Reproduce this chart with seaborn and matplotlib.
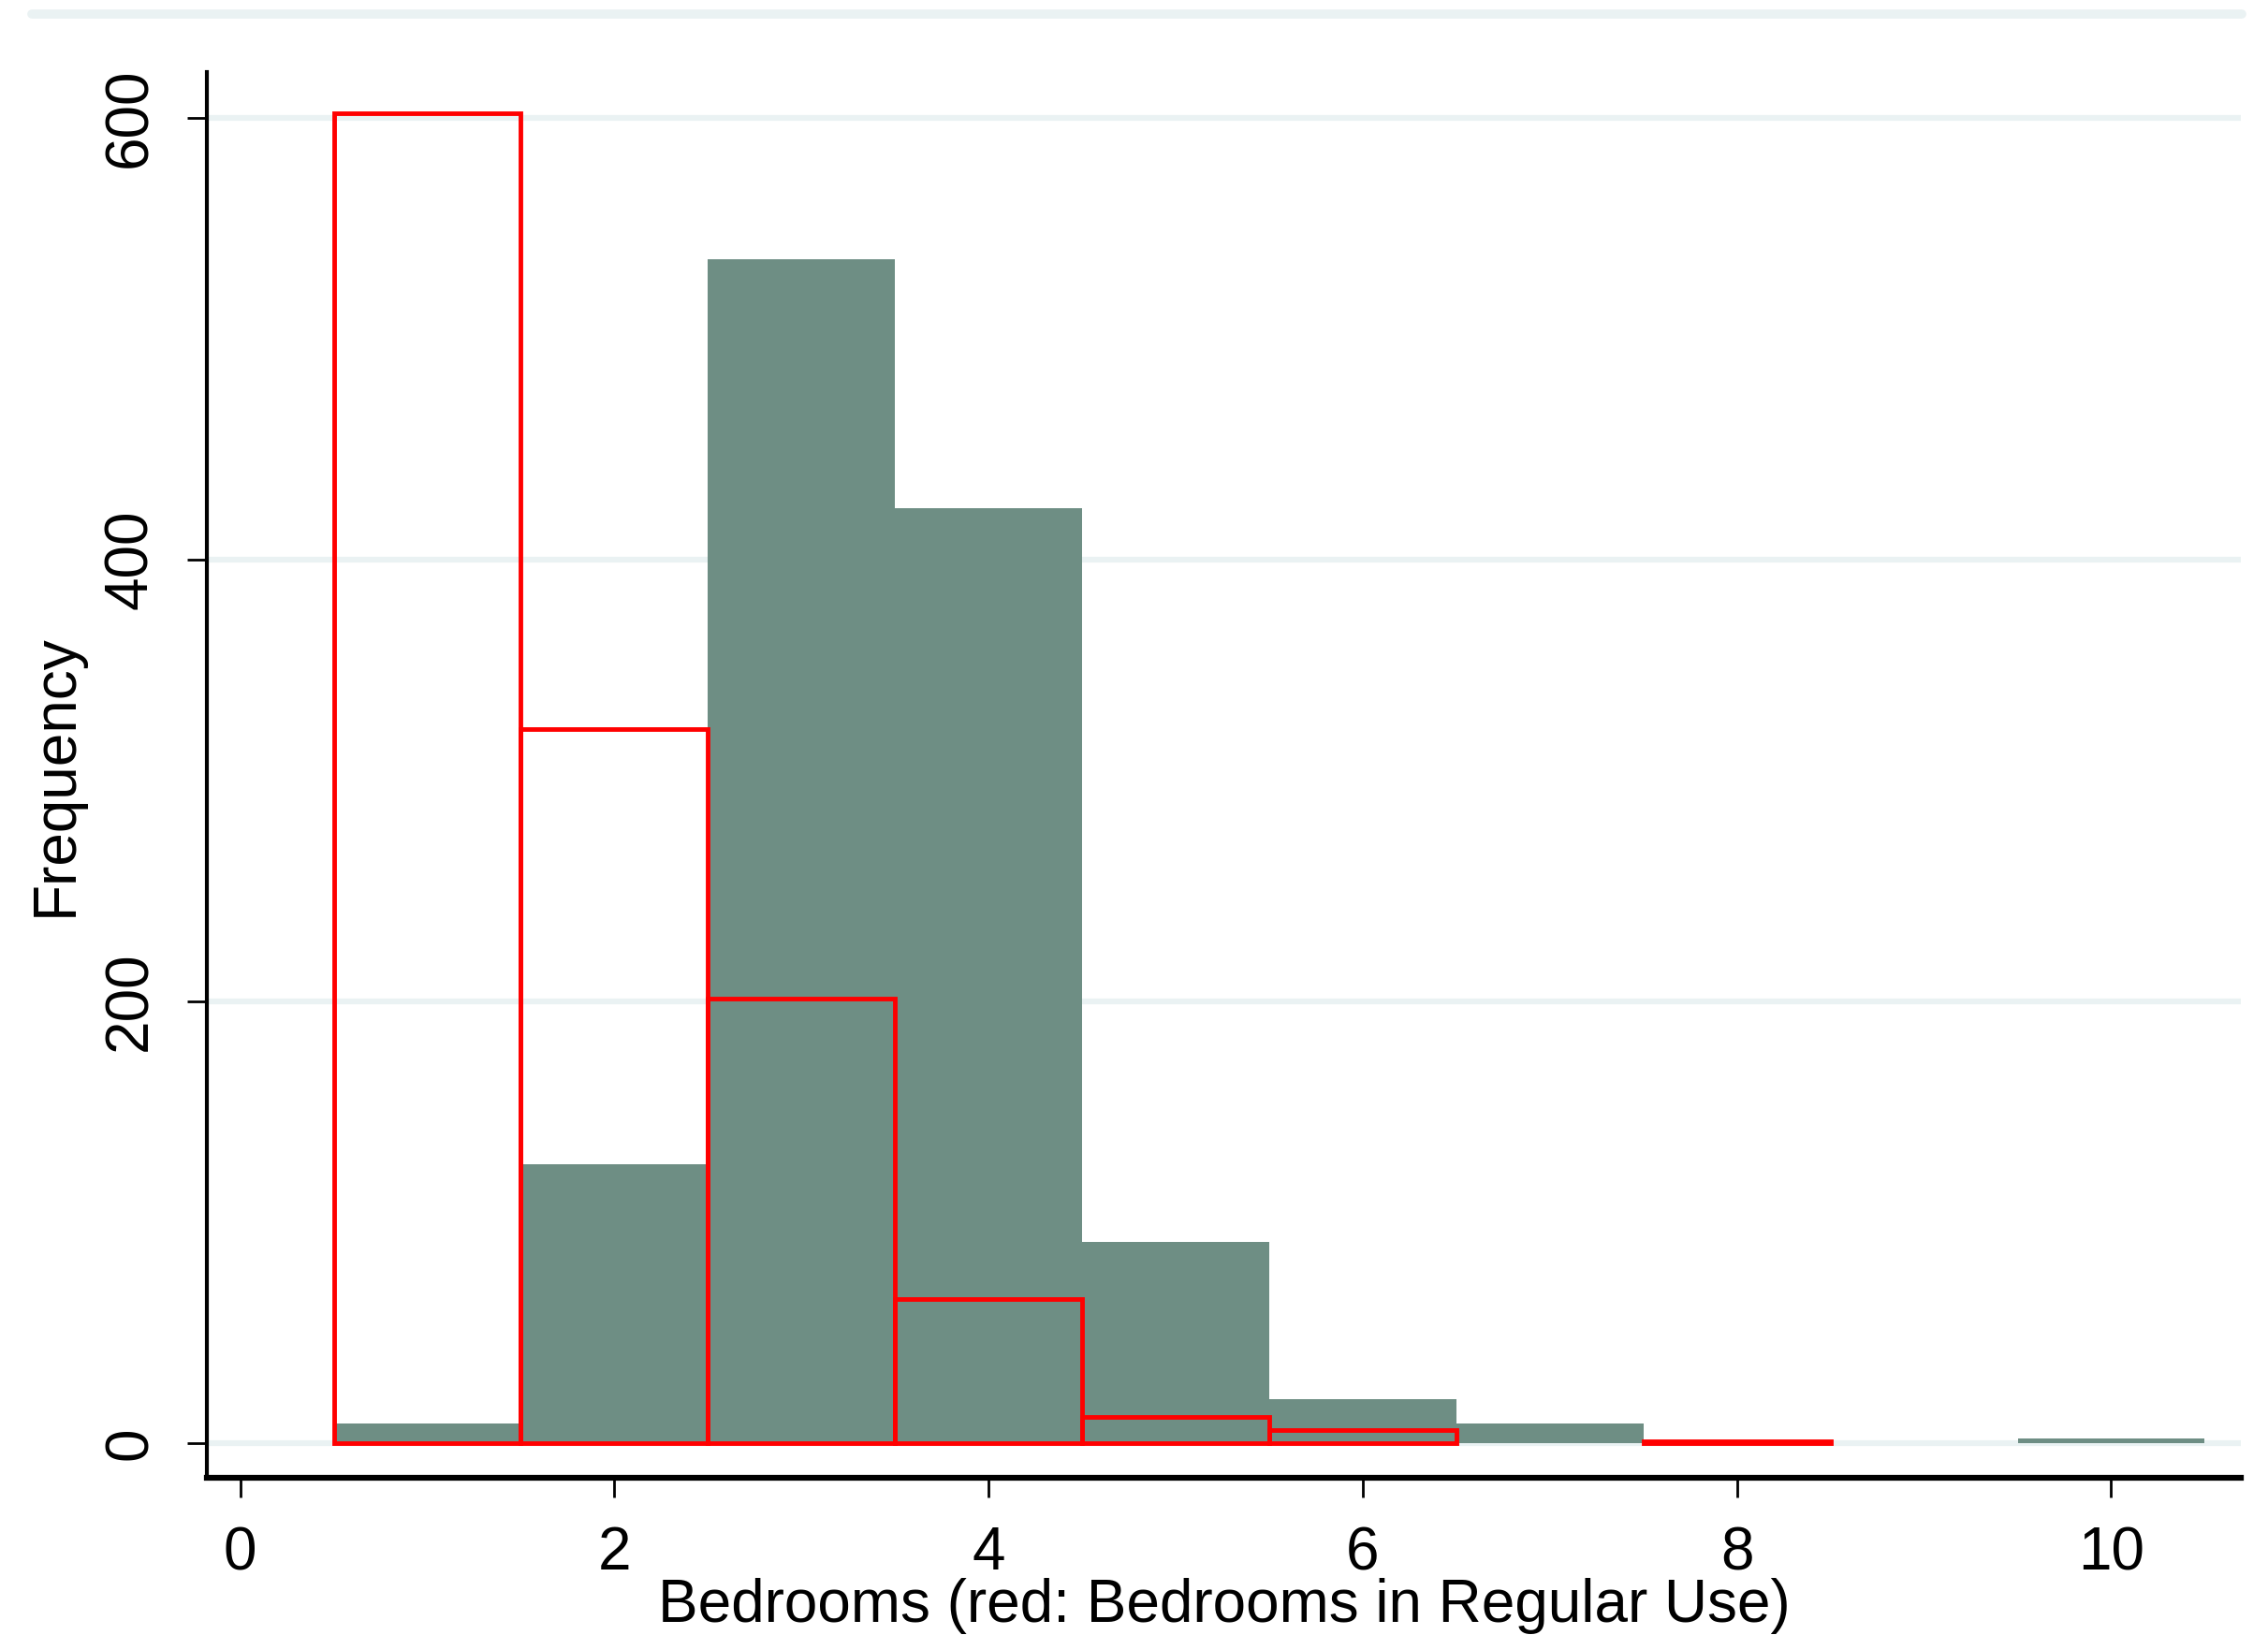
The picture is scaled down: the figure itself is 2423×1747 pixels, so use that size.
import matplotlib
matplotlib.use("Agg")
import matplotlib.pyplot as plt
import seaborn as sns
from matplotlib.lines import Line2D

# bedroom counts (grey) and bedrooms in regular use (red outline)
bedrooms = [1, 2, 3, 4, 5, 6, 7, 8, 9, 10]
bedroom_freq = [9, 126, 536, 423, 91, 20, 9, 0, 0, 2]
regular_use = [1, 2, 3, 4, 5, 6, 7, 8]
regular_freq = [602, 323, 201, 65, 12, 6, 0, 1]

x_ticks = [0, 2, 4, 6, 8, 10]
y_ticks = [0, 200, 400, 600]

grey = "#6E8E84"
grid_col = "#EAF2F3"

sns.set_style("white")
plt.rcParams["font.family"] = ["Liberation Sans", "DejaVu Sans"]
plt.rcParams["text.color"] = "black"
plt.rcParams["axes.labelcolor"] = "black"
plt.rcParams["xtick.color"] = "black"
plt.rcParams["ytick.color"] = "black"

fig = plt.figure(figsize=(24.23, 17.47), dpi=100)
ax = fig.add_axes([0.0912, 0.0962, 0.897, 0.860])
ax.set_axisbelow(True)

sns.histplot(x=bedrooms, weights=bedroom_freq, discrete=True, color=grey,
             alpha=1, linewidth=0, ax=ax)
n_grey = len(ax.patches)
sns.histplot(x=regular_use, weights=regular_freq, discrete=True, color="red",
             fill=False, linewidth=3.5, ax=ax)
for p in ax.patches[n_grey:]:
    if p.get_height() == 0:
        p.set_visible(False)

ax.set_xlim(-0.178, 10.695)
ax.set_ylim(-15.7, 620.8)
ax.set_xticks(x_ticks)
ax.set_yticks(y_ticks)
ax.set_yticklabels([str(v) for v in y_ticks], rotation=90, va="center")
ax.yaxis.grid(True, color=grid_col, linewidth=4.5)
ax.xaxis.grid(False)

for side in ["top", "right"]:
    ax.spines[side].set_visible(False)
ax.spines["left"].set_linewidth(3)
ax.spines["bottom"].set_linewidth(4.5)
ax.spines["left"].set_color("black")
ax.spines["bottom"].set_color("black")
ax.tick_params(axis="both", which="major", length=15, width=2, color="black",
               labelcolor="black", labelsize=46, pad=22, left=True, bottom=True)

ax.set_xlabel("Bedrooms (red: Bedrooms in Regular Use)", size=46,
              labelpad=-3, color="black")
ax.set_ylabel("Frequency", size=46, labelpad=14, color="black")

# light band along the top of the graph region
fig.add_artist(Line2D([34 / 2423, 2395 / 2423], [1 - 15 / 1747, 1 - 15 / 1747],
                      color=grid_col, linewidth=7, transform=fig.transFigure))

fig.savefig("out.png", dpi=100)
